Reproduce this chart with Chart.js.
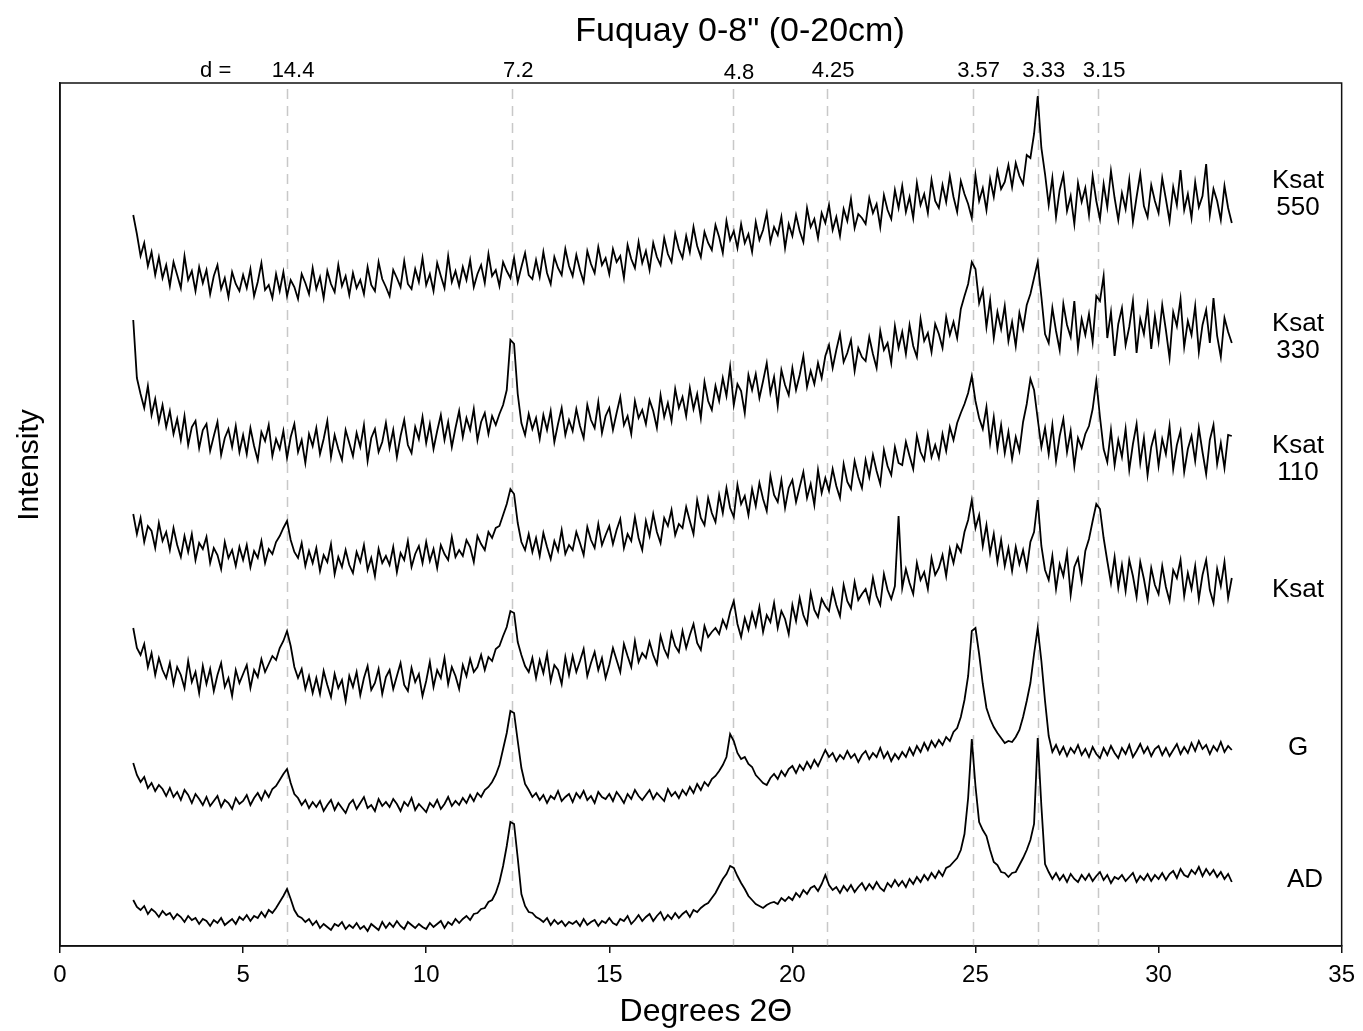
<!DOCTYPE html>
<html>
<head>
<meta charset="utf-8">
<script src="https://cdn.jsdelivr.net/npm/chart.js@4"></script>
<style>
  html, body { margin: 0; padding: 0; background: #fff; }
  #wrap { width: 1363px; height: 1031px; }
</style>
</head>
<body>
<div id="wrap"><canvas id="xrd" width="1363" height="1031"></canvas></div>
<script>
// 2-theta grid: 2.0 .. 32.0 in 0.1 degree steps (301 points per trace)
const START_ANGLE = 2.0;
const ANGLE_STEP = 0.1;

// intensities (arbitrary units, traces already offset)
const ksat550 = [
  731, 712, 690, 703, 680, 694, 671, 689, 668, 681,
  660, 684, 671, 658, 690, 666, 675, 655, 679, 663,
  676, 652, 670, 681, 657, 668, 649, 674, 662, 655,
  671, 658, 677, 650, 664, 683, 656, 661, 648, 672,
  655, 674, 650, 666, 659, 647, 672, 663, 652, 678,
  657, 669, 648, 675, 662, 654, 681, 660, 670, 651,
  673, 658, 666, 652, 679, 661, 655, 684, 667, 659,
  650, 676, 668, 659, 685, 662, 657, 677, 664, 688,
  661, 672, 655, 683, 670, 658, 690, 664, 675, 660,
  679, 666, 686, 659, 672, 681, 663, 692, 670, 676,
  660, 684, 675, 668, 688, 664, 679, 693, 671, 667,
  686, 669, 694, 673, 662, 689, 678, 671, 697, 680,
  670, 691, 676, 664, 695, 682, 673, 699, 681, 688,
  672, 697, 684, 690, 668, 701, 687, 678, 704, 683,
  695, 676, 703, 689, 681, 708, 692, 684, 712, 697,
  688, 710, 694, 719, 700, 689, 714, 703, 696, 721,
  709, 693, 725, 706, 715, 698, 722, 703, 712, 694,
  724, 706, 716, 733, 704, 719, 711, 729, 698, 722,
  710, 731, 715, 704, 738, 719, 727, 708, 733, 723,
  741, 716, 729, 710, 737, 725, 747, 718, 732, 728,
  722, 748, 733, 742, 719, 751, 736, 727, 756, 738,
  760, 734, 749, 728, 763, 741, 752, 733, 766, 745,
  738, 761, 744, 770, 749, 734, 765, 752, 742, 728,
  771, 745, 758, 736, 767, 749, 775, 757, 764, 781,
  759, 783, 770, 762, 791, 788, 812, 850, 798, 772,
  741, 768, 729, 756, 771, 735, 750, 722, 763, 744,
  758, 731, 770, 745, 727, 762, 739, 775, 748, 726,
  753, 737, 766, 724, 749, 772, 740, 729, 761, 745,
  733, 768, 747, 725, 759, 741, 776, 736, 752, 728,
  764, 739, 750, 782, 731, 757, 745, 726, 760, 738,
  723
];

const ksat330 = [
  626, 568, 552, 538, 560, 531, 547, 524, 541, 519,
  535, 512, 527, 506, 530, 501, 519, 525, 498, 516,
  522, 495, 510, 524, 491, 508, 517, 499, 520, 494,
  511, 492, 518, 500, 486, 514, 505, 521, 490, 507,
  497, 515, 488, 509, 522, 494, 506, 483, 512, 500,
  518, 492, 507, 525, 489, 511, 497, 486, 516, 503,
  490, 513, 499, 521, 485, 508, 517, 494, 504, 523,
  498, 516, 489, 510, 526, 501, 493, 519, 507, 529,
  503, 522, 497, 515, 531, 506, 524, 499, 518, 535,
  509, 528, 516, 537, 506, 524, 533, 512, 530, 521,
  532, 541, 556, 606, 602, 552, 523, 511, 532, 517,
  528, 507, 531, 516, 535, 504, 522, 538, 511, 526,
  515, 537, 520, 508, 541, 526, 518, 544, 513, 530,
  538, 516, 533, 549, 521, 530, 512, 545, 528, 536,
  522, 546, 535, 518, 551, 529, 543, 525, 557, 538,
  549, 530, 558, 537, 552, 528, 564, 545, 536, 560,
  545, 568, 550, 579, 541, 562, 555, 533, 571, 556,
  572, 548, 565, 583, 553, 569, 540, 576, 561, 551,
  578, 556, 571, 590, 559, 575, 562, 583, 568, 590,
  601, 578, 596, 612, 584, 593, 606, 575, 598, 589,
  585, 609, 592, 578, 615, 596, 603, 583, 620, 598,
  614, 592, 621, 600, 589, 627, 605, 613, 594, 622,
  612, 598, 629, 611, 624, 608, 637, 650, 662, 684,
  677, 643, 656, 619, 646, 608, 634, 617, 640, 605,
  624, 600, 633, 617, 641, 652, 668, 684, 649, 612,
  603, 638, 615, 596, 642, 621, 609, 645, 598, 627,
  611, 632, 604, 650, 645, 670, 608, 634, 590, 622,
  638, 601, 619, 645, 593, 627, 612, 640, 597, 630,
  605, 641, 616, 588, 634, 620, 647, 599, 625, 611,
  640, 594, 621, 636, 603, 648, 610, 589, 628, 614,
  603
];

const ksat110 = [
  432, 412, 428, 404, 420, 415, 398, 423, 405, 414,
  396, 418, 401, 389, 410, 394, 412, 386, 403, 397,
  409, 383, 398, 391, 377, 404, 388, 396, 380, 399,
  386, 401, 379, 395, 388, 405, 383, 397, 392, 404,
  410, 418, 425, 406, 394, 388, 403, 380, 395, 383,
  398, 375, 391, 384, 402, 372, 389, 379, 396, 381,
  373, 394, 384, 401, 376, 388, 370, 397, 383, 390,
  381, 399, 374, 393, 386, 405, 379, 392, 400, 383,
  404, 385, 397, 378, 401, 392, 386, 409, 389, 396,
  390, 406, 399, 384, 410, 402, 396, 414, 408, 418,
  420, 431, 442, 457, 452, 423, 404, 396, 412, 394,
  408, 390, 413, 399, 387, 405, 395, 416, 392, 401,
  396, 414, 403, 391, 419, 406, 398, 422, 401, 411,
  420, 402, 416, 427, 398, 412, 405, 429, 408, 396,
  425, 410, 432, 414, 403, 428, 420, 436, 411, 422,
  418, 439, 425, 412, 446, 428, 421, 448, 433, 424,
  451, 433, 458, 438, 429, 461, 442, 450, 431, 457,
  440, 463, 447, 435, 470, 451, 444, 466, 438, 458,
  466, 444, 459, 474, 448, 462, 441, 476, 453, 468,
  455, 477, 460, 448, 482, 464, 457, 485, 469, 458,
  486, 469, 491, 475, 462, 496, 480, 471, 499, 483,
  481, 504, 490, 477, 510, 494, 486, 512, 489, 501,
  488, 512, 495, 519, 506, 523, 533, 542, 553, 570,
  545, 528, 517, 539, 503, 529, 497, 521, 493, 514,
  487, 509, 495, 524, 542, 567, 556, 527, 499, 518,
  492, 521, 485, 510, 527, 494, 515, 480, 508, 498,
  512, 520, 537, 565, 529, 497, 484, 516, 481, 506,
  489, 517, 476, 502, 522, 483, 508, 471, 499, 513,
  480, 507, 492, 520, 477, 501, 515, 474, 497, 510,
  485, 518, 494, 472, 506, 521, 482, 503, 478, 511,
  510
];

const ksat = [
  318, 298, 291, 302, 279, 293, 271, 288, 276, 268,
  283, 262, 279, 271, 258, 285, 264, 274, 253, 280,
  262, 277, 255, 271, 283, 259, 268, 250, 276, 263,
  272, 281, 258, 276, 269, 287, 274, 282, 290, 286,
  298, 305, 315, 300, 279, 268, 277, 257, 270, 253,
  268, 252, 275, 261, 249, 272, 258, 266, 245, 270,
  259, 274, 251, 268, 280, 256, 263, 277, 252, 269,
  276, 257, 270, 283, 261, 255, 278, 264, 272, 250,
  265, 284, 259, 276, 268, 288, 262, 279, 270, 257,
  281, 270, 287, 274, 279, 291, 276, 289, 285, 297,
  300, 310, 319, 335, 333, 304, 291, 280, 274, 288,
  268, 286, 273, 292, 265, 281, 276, 262, 289, 271,
  290, 274, 285, 297, 270, 283, 294, 276, 288, 268,
  281, 298, 286, 274, 302, 290, 279, 305, 284, 293,
  288, 304, 291, 282, 310, 297, 289, 313, 300, 294,
  315, 298, 311, 322, 303, 296, 320, 309, 314, 318,
  312, 326, 318, 334, 345, 322, 309, 328, 316, 333,
  320, 339, 314, 331, 324, 343, 318, 335, 327, 312,
  341, 325, 348, 331, 322, 353, 336, 329, 347, 340,
  335, 356, 341, 330, 361, 345, 338, 364, 346, 352,
  357, 344, 368, 350, 341, 372, 356, 347, 360, 430,
  358, 377, 363, 352, 383, 366, 374, 357, 388, 371,
  378, 391, 370, 397, 383, 401, 394, 414, 426, 446,
  418, 431, 400, 421, 393, 412, 384, 406, 380, 398,
  375, 399, 382, 396, 377, 404, 414, 446, 400, 376,
  366, 390, 357, 382, 370, 393, 351, 379, 388, 365,
  395, 407, 425, 442, 437, 408, 385, 363, 389, 358,
  381, 355, 386, 370, 349, 384, 367, 346, 378, 361,
  352, 380, 359, 345, 376, 368, 386, 350, 373, 357,
  380, 347, 371, 386, 356, 343, 377, 360, 384, 348,
  368
];

const glycol = [
  183, 171, 164, 169, 158, 163, 155, 161, 157, 150,
  158, 149, 154, 146, 156, 151, 143, 152, 147, 141,
  149, 140, 145, 150, 139, 146, 143, 137, 148, 142,
  145, 151, 141, 148, 153, 146, 155, 149, 157, 160,
  166, 172, 177, 163, 152, 148, 141, 146, 138, 144,
  139, 145, 135, 141, 146, 136, 143, 138, 133, 142,
  146, 137, 143, 149, 138, 141, 135, 147, 140, 144,
  139, 147, 142, 135, 144, 140, 148, 136, 142, 138,
  134, 143, 139, 146, 137, 142, 149, 140, 145, 141,
  148, 143, 151, 145, 153, 149, 156, 159, 164, 171,
  181, 197, 213, 235, 233, 205, 178, 162, 156, 149,
  153, 146, 151, 143, 150, 147, 155, 145, 149, 152,
  144, 153, 148, 155, 146, 150, 143, 154, 149, 147,
  152, 145, 154, 149, 143, 152, 147, 156, 150, 146,
  151, 156, 147, 153, 149, 145, 157, 150, 154, 148,
  156, 151, 159, 153, 162, 156, 164, 160, 167, 170,
  175, 181, 189, 212, 205, 193, 187, 189, 182, 179,
  171, 167, 163, 161, 168, 172, 167, 175, 170, 177,
  180, 173, 181, 176, 184, 178, 186, 180, 188, 196,
  189, 193, 185, 191, 187, 195, 188, 192, 184, 191,
  195, 187, 193, 189, 198, 188, 194, 185, 192, 187,
  194, 189, 198, 191, 200, 194, 203, 196, 205, 199,
  206, 201, 209, 205, 214, 218, 229, 246, 270, 315,
  318, 292, 262, 238, 227, 219, 213, 208, 203, 205,
  204, 209, 216, 229, 245, 263, 292, 318, 285, 245,
  210, 194, 201, 192, 199, 190, 198, 193, 201, 191,
  197, 189, 199, 192, 188, 198, 191, 200, 193, 188,
  198, 192, 201, 189, 195, 202, 193, 199, 190, 197,
  200, 191, 198, 190, 196, 202, 192, 199, 193, 203,
  195, 205, 197, 201, 192, 200, 195, 204, 194, 200,
  196
];

const airDry = [
  46, 39, 36, 40, 32, 37, 34, 29, 35, 31,
  33, 27, 32, 29, 24, 30, 26, 28, 22, 27,
  25, 20, 26, 23, 28, 21, 24, 27, 22, 29,
  26, 31, 25, 30, 28, 34, 29, 36, 33, 38,
  44, 50, 57, 47, 36, 30, 28, 24, 27, 21,
  25, 18, 22, 19, 16, 22, 20, 24, 17, 21,
  18, 23, 17, 20, 15, 22, 19, 16, 24, 18,
  23, 19, 25, 20, 17, 24, 21, 18, 22, 19,
  17, 23, 19, 22, 25, 18, 24, 21, 27, 23,
  27, 30, 26, 32, 33, 37, 38, 44, 46, 53,
  64, 80, 100, 124, 122, 88, 52, 40, 34, 33,
  29, 27, 24, 28, 21, 26, 22, 25, 20, 24,
  22, 25, 20, 27, 21, 24, 26, 20, 25, 23,
  28, 23, 21, 27, 25, 30, 22, 26, 31, 25,
  29, 32, 25, 30, 34, 26, 31, 27, 33, 28,
  32, 35, 29, 36, 34, 38, 41, 43, 48, 53,
  60, 67, 72, 80, 78, 70, 63, 57, 50, 46,
  42, 40, 38, 41, 43, 44, 42, 48, 45, 49,
  46, 53, 49, 56, 52, 58, 60, 55, 62, 71,
  61, 56, 59, 53, 60, 55, 61, 54, 59, 63,
  56, 62, 57, 64, 58, 55, 63, 59, 66, 60,
  65, 59, 67, 62, 69, 64, 71, 66, 73, 68,
  75, 70, 78, 80, 84, 88, 96, 112, 148, 207,
  160, 124, 116, 110, 96, 84, 81, 74, 73, 69,
  73, 74, 81, 88, 96, 106, 122, 208, 140, 82,
  74, 67, 73, 66, 71, 64, 72, 67, 64, 71,
  66, 72, 65, 70, 74, 66, 71, 63, 69, 67,
  71, 65, 69, 73, 64, 70, 66, 72, 65, 71,
  67, 73, 66, 72, 75, 68, 77, 71, 69, 76,
  72, 79, 70, 77, 71, 76, 69, 74, 67, 72,
  64
];

const traceNames = [["Ksat", "550"], ["Ksat", "330"], ["Ksat", "110"], ["Ksat"], ["G"], ["AD"]];
const traceLabelLevel = [752, 609, 487, 356, 198, 66];

// reference d-spacings (Angstrom) and where they sit in 2-theta
const dSpacing = ["14.4", "7.2", "4.8", "4.25", "3.57", "3.33", "3.15"];
const dAngle = [6.2, 12.35, 18.38, 20.95, 24.92, 26.7, 28.35];

const xTicks = [0, 5, 10, 15, 20, 25, 30, 35];

const FONT = "'Liberation Sans', Arial, Helvetica, sans-serif";

function toPoints(values) {
  return values.map((v, i) => ({ x: +(START_ANGLE + i * ANGLE_STEP).toFixed(1), y: v }));
}

const allTraces = [ksat550, ksat330, ksat110, ksat, glycol, airDry];

const overlay = {
  id: "overlay",
  beforeDatasetsDraw(chart) {
    const { ctx, chartArea: a, scales: { x } } = chart;
    ctx.save();
    ctx.strokeStyle = "#c8c8c8";
    ctx.lineWidth = 1.5;
    ctx.setLineDash([10, 7]);
    dAngle.forEach(v => {
      const px = Math.round(x.getPixelForValue(v)) + 0.5;
      ctx.beginPath();
      ctx.moveTo(px, a.top + 6);
      ctx.lineTo(px, a.bottom);
      ctx.stroke();
    });
    ctx.restore();
  },
  afterDraw(chart) {
    const { ctx, chartArea: a, scales: { x, y } } = chart;
    ctx.save();
    // box
    ctx.strokeStyle = "#111";
    ctx.lineWidth = 1.5;
    ctx.strokeRect(a.left, a.top, a.right - a.left, a.bottom - a.top);

    ctx.fillStyle = "#000";
    ctx.textAlign = "center";
    ctx.textBaseline = "middle";

    // title
    ctx.font = `34px ${FONT}`;
    ctx.fillText('Fuquay 0-8" (0-20cm)', 740, 32);

    // d-spacing labels
    ctx.font = `22px ${FONT}`;
    ctx.fillText("d =", x.getPixelForValue(4.25), 71);
    dSpacing.forEach((t, i) => {
      ctx.fillText(t, x.getPixelForValue(dAngle[i]) + 6, i === 2 ? 73 : 71);
    });

    // trace labels
    ctx.font = `26px ${FONT}`;
    traceNames.forEach((lines, i) => {
      const cy = y.getPixelForValue(traceLabelLevel[i]);
      const top = cy - (lines.length - 1) * 13.5;
      const cx = lines[0] === "AD" ? 1305 : 1298;
      lines.forEach((t, j) => ctx.fillText(t, cx, top + j * 27));
    });

    // axis titles
    ctx.font = `32px ${FONT}`;
    ctx.fillText("Degrees 2\u0398", (a.left + a.right) / 2 + 5, 1012);
    ctx.save();
    ctx.translate(30, 465);
    ctx.rotate(-Math.PI / 2);
    ctx.font = `30px ${FONT}`;
    ctx.fillText("Intensity", 0, 0);
    ctx.restore();

    ctx.restore();
  }
};

new Chart(document.getElementById("xrd"), {
  type: "line",
  data: {
    datasets: allTraces.map((vals, i) => ({
      label: traceNames[i].join(" "),
      data: toPoints(vals),
      borderColor: "#000",
      borderWidth: 1.8,
      pointRadius: 0,
      tension: 0,
      fill: false
    }))
  },
  options: {
    responsive: false,
    animation: false,
    devicePixelRatio: 1,
    layout: { padding: { top: 83, right: 18, left: 0, bottom: 0 } },
    plugins: { legend: { display: false }, tooltip: { enabled: false } },
    scales: {
      x: {
        type: "linear",
        min: 0,
        max: 35,
        afterBuildTicks: s => { s.ticks = xTicks.map(v => ({ value: v })); },
        afterFit: s => { s.height = 85; },
        ticks: { color: "#000", font: { family: FONT, size: 24 }, padding: 8, maxRotation: 0 },
        grid: { drawOnChartArea: false, drawTicks: true, tickLength: 7, color: "#111", lineWidth: 1.5 },
        border: { display: true, color: "#111", width: 1.5 }
      },
      y: {
        min: 0,
        max: 863,
        afterFit: s => { s.width = 60; },
        ticks: { display: false },
        grid: { display: false },
        border: { display: true, color: "#111", width: 1.5 }
      }
    }
  },
  plugins: [overlay]
});
</script>
</body>
</html>
